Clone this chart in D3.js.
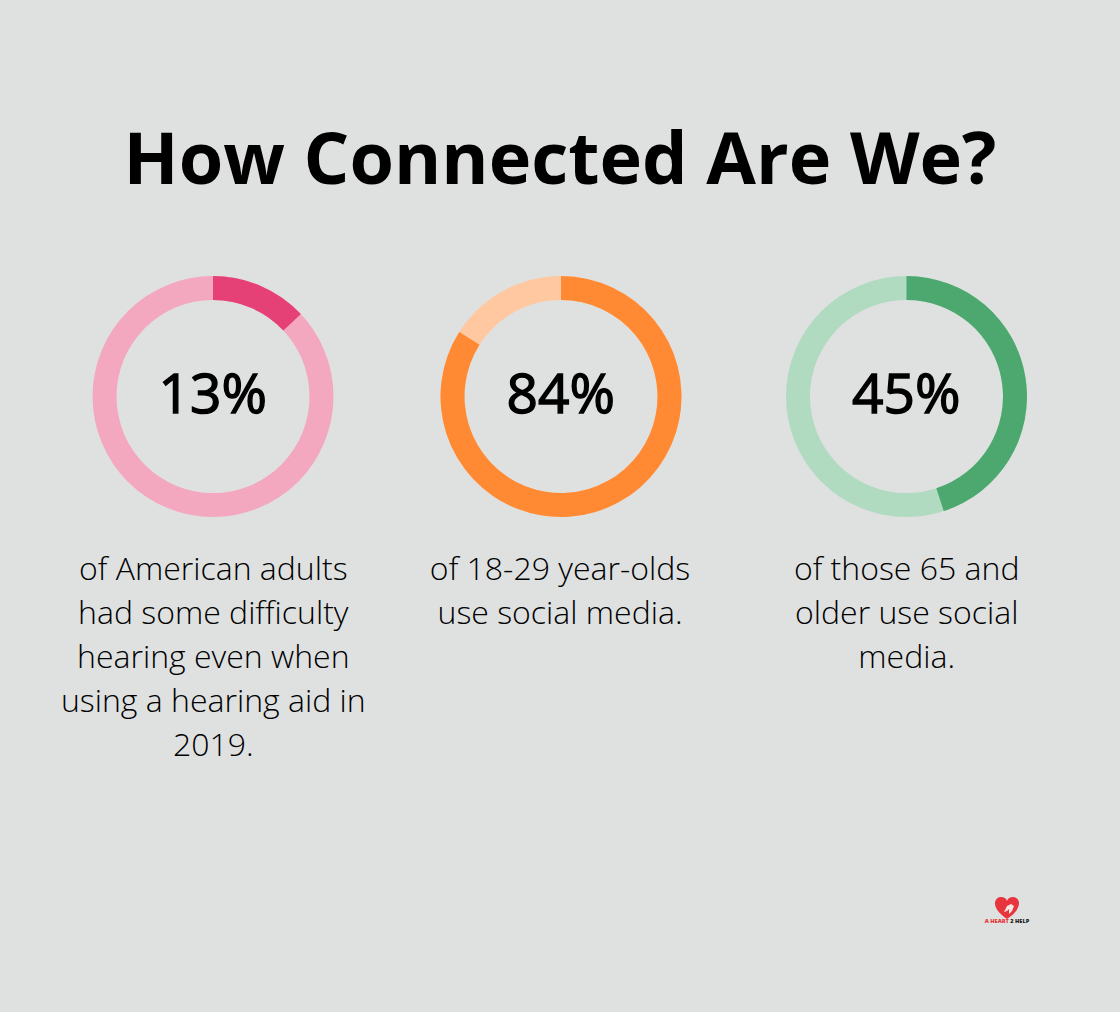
<!DOCTYPE html>
<html>
<head>
<meta charset="utf-8">
<script src="https://cdn.jsdelivr.net/npm/d3@7"></script>
<style>
  html, body { margin: 0; padding: 0; background: #dfe1e0; }
  svg { display: block; }
</style>
</head>
<body>
<div id="chart"></div>
<script>
// Chart values
var chartTitle = "How Connected Are We?";
var percents = [13, 84, 45];
var captions = [
  ["of American adults", "had some difficulty", "hearing even when", "using a hearing aid in", "2019."],
  ["of 18-29 year-olds", "use social media."],
  ["of those 65 and", "older use social", "media."]
];
var mainColors = ["#e64177", "#ff8a33", "#4ca86e"];
var lightColors = ["#f4a8c0", "#ffc8a0", "#b1dbc0"];

var svgWidth = 1120;
var svgHeight = 1012;

var svg = d3.select("#chart").append("svg")
  .attr("width", svgWidth)
  .attr("height", svgHeight);

svg.append("rect")
  .attr("width", svgWidth)
  .attr("height", svgHeight)
  .attr("fill", "#dfe1e0");

svg.append("text")
  .attr("x", 560)
  .attr("y", 184)
  .attr("text-anchor", "middle")
  .attr("font-family", "Open Sans")
  .attr("font-weight", 700)
  .attr("font-size", "72px")
  .attr("fill", "#000")
  .text(chartTitle);

// Ring centres, the captions sit a touch off them
var xScale = d3.scaleOrdinal().domain(d3.range(percents.length)).range([213, 561, 906.5]);
var captionX = d3.scaleOrdinal().domain(d3.range(percents.length)).range([213.3, 560, 906.7]);
var cy = 396.5;

// Percent to angle
var angle = d3.scaleLinear().domain([0, 100]).range([0, 2 * Math.PI]);
var arc = d3.arc().innerRadius(96.5).outerRadius(120.5);

var groups = svg.selectAll("g.ring")
  .data(percents)
  .enter()
  .append("g")
  .attr("class", "ring")
  .attr("transform", (d, i) => `translate(${xScale(i)}, ${cy})`);

// Light background ring
groups.append("path")
  .attr("d", d => arc({ startAngle: 0, endAngle: 2 * Math.PI }))
  .attr("fill", (d, i) => lightColors[i]);

// Value arc
groups.append("path")
  .attr("d", d => arc({ startAngle: 0, endAngle: angle(d) }))
  .attr("fill", (d, i) => mainColors[i]);

// No medium cut of the font here, so regular with a thin stroke
groups.append("text")
  .attr("text-anchor", "middle")
  .attr("x", -0.3)
  .attr("y", 16.5)
  .attr("font-family", "Open Sans")
  .attr("font-weight", 400)
  .attr("font-size", "55px")
  .attr("fill", "#000")
  .attr("stroke", "#000")
  .attr("stroke-width", 1.4)
  .text(d => d + "%");

// Captions
captions.forEach(function(lines, i) {
  svg.selectAll("text.caption" + i)
    .data(lines)
    .enter()
    .append("text")
    .attr("class", "caption" + i)
    .attr("text-anchor", "middle")
    .attr("x", captionX(i))
    .attr("y", (line, j) => cy + 183.5 + j * 44)
    .attr("font-family", "Open Sans")
    .attr("font-weight", 300)
    .attr("font-size", "32px")
    .attr("fill", "#000")
    .text(line => line);
});

// Small logo
var logo = svg.append("g").attr("transform", "translate(1007, 908)");
logo.append("path")
  .attr("d", "M0,11 C-17,0 -13,-11 -6,-11 C-3,-11 -1,-10 0,-7 C1,-10 3,-11 6,-11 C13,-11 17,0 0,11 Z")
  .attr("fill", "#e8343c");
logo.append("path")
  .attr("d", "M-3,4 L0,-2 L4,-4 L7,-2 L5,3 L2,6 L2,1 L0,3 Z")
  .attr("fill", "#f6e6e2");
var logoText = logo.append("text")
  .attr("x", 0)
  .attr("y", 15)
  .attr("text-anchor", "middle")
  .attr("font-family", "Open Sans")
  .attr("font-weight", 800)
  .attr("font-size", "5.6px");
logoText.append("tspan").attr("fill", "#e8343c").text("A HEART ");
logoText.append("tspan").attr("fill", "#222").text("2 HELP");
</script>
</body>
</html>
